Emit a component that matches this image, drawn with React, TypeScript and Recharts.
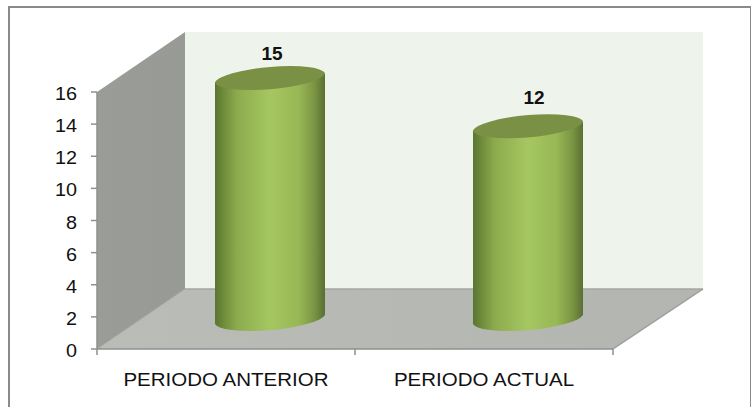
import { BarChart, Bar, XAxis, YAxis, ReferenceArea, LabelList } from 'recharts';

const categories = ['PERIODO ANTERIOR', 'PERIODO ACTUAL'];
const values = [15, 12];
const yTicks = [0, 2, 4, 6, 8, 10, 12, 14, 16];

const chartData = categories.map((name, i) => ({ name, value: values[i] }));

// Depth of the fake 3D box, and how far the cylinders sit into it
const DEPTH_X = 88;
const DEPTH_Y = -60;
const BACK_EXTRA = 2; // back edge runs slightly wider than the front axis
const MID_X = DEPTH_X / 2;
const MID_Y = DEPTH_Y / 2;
const ELLIPSE_RY = 11.8;
const TILT = -5;
const TILT_DROP = 4.5; // vertical shift of the ellipse's left/right extremes

const FONT = '"Liberation Sans", Arial, sans-serif';
const AXIS_COLOR = '#8e908c';

// Per-bar nudge of the value labels above the cylinder tops
const labelNudges = [
  [2, -18],
  [6, -22],
];

function Box({ x, y, width, height }: any) {
  const bottom = y + height;
  const right = x + width;
  const backRight = right + DEPTH_X + BACK_EXTRA;
  const step = width / categories.length;
  const ticks = categories.map((_, i) => x + step * i).concat(right);
  return (
    <g>
      <rect x={x + DEPTH_X} y={y + DEPTH_Y} width={width + BACK_EXTRA} height={height} fill="#eef4eb" />
      <polygon
        points={`${x},${y} ${x + DEPTH_X},${y + DEPTH_Y} ${x + DEPTH_X},${bottom + DEPTH_Y} ${x},${bottom}`}
        fill="url(#wallFill)"
      />
      <polygon
        points={`${x},${bottom} ${right},${bottom} ${backRight},${bottom + DEPTH_Y} ${x + DEPTH_X},${bottom + DEPTH_Y}`}
        fill="url(#floorFill)"
      />
      <line x1={x + DEPTH_X} y1={bottom + DEPTH_Y} x2={backRight} y2={bottom + DEPTH_Y} stroke="#a4a6a1" strokeWidth={1.5} />
      <line x1={x} y1={bottom} x2={x + DEPTH_X} y2={bottom + DEPTH_Y} stroke="#a4a6a1" />
      <line x1={right} y1={bottom} x2={backRight} y2={bottom + DEPTH_Y} stroke="#9c9c9c" strokeWidth={1.5} />
      {ticks.map((t) => (
        <line key={t} x1={t} y1={bottom} x2={t} y2={bottom + 6} stroke={AXIS_COLOR} strokeWidth={1.5} />
      ))}
    </g>
  );
}

function Cylinder({ x, y, width, height }: any) {
  const left = x + MID_X;
  const right = left + width;
  const top = y + MID_Y;
  const base = top + height;
  const rx = width / 2 + 0.3;
  const arc = `${rx} ${ELLIPSE_RY} ${TILT}`;
  return (
    <g>
      <path
        d={`M${left},${top + TILT_DROP} L${left},${base + TILT_DROP} A${arc} 0 0 ${right},${base - TILT_DROP} L${right},${top - TILT_DROP} Z`}
        fill="url(#cylinderFill)"
      />
      <path
        d={`M${left},${top + TILT_DROP} A${arc} 0 1 ${right},${top - TILT_DROP} A${arc} 0 1 ${left},${top + TILT_DROP} Z`}
        fill="#7a9045"
      />
    </g>
  );
}

function ValueLabel({ x, y, width, value, index }: any) {
  const [dx, dy] = labelNudges[index];
  return (
    <text
      x={x + MID_X + width / 2 + dx}
      y={y + MID_Y + dy}
      textAnchor="middle"
      fontFamily={FONT}
      fontSize={19}
      fontWeight="bold"
      fill="#111"
    >
      {value}
    </text>
  );
}

// The axis text is a little wider than the font's natural shape
function CategoryTick({ x, y, payload }: any) {
  return (
    <g transform={`translate(${x},${y + 29}) scale(1.14,1)`}>
      <text textAnchor="middle" fontFamily={FONT} fontSize={18} fill="#111">
        {payload.value}
      </text>
    </g>
  );
}

function ValueTick({ x, y, payload }: any) {
  return (
    <g transform={`translate(${x - 12},${y + 8}) scale(1.1,1)`}>
      <text textAnchor="end" fontFamily={FONT} fontSize={18} fill="#111">
        {payload.value}
      </text>
    </g>
  );
}

export default function App() {
  return (
    <div style={{ position: 'absolute', left: 0, top: 0, width: 751, height: 407, overflow: 'hidden', background: '#fff' }}>
      <div
        style={{
          position: 'absolute',
          left: 8,
          top: 6,
          width: 740,
          height: 440,
          border: '2px solid #8a8a8a',
        }}
      />
      <div style={{ position: 'absolute', left: 0, top: 0 }}>
        <BarChart
          width={751}
          height={407}
          data={chartData}
          barSize={110}
          margin={{ top: 92, right: 138, bottom: 28, left: 57 }}
        >
          <defs>
            <linearGradient id="cylinderFill" x1="0" y1="0" x2="1" y2="0">
              <stop offset="0%" stopColor="#5a752f" />
              <stop offset="8%" stopColor="#6f8c3b" />
              <stop offset="20%" stopColor="#8dab4e" />
              <stop offset="50%" stopColor="#a5c761" />
              <stop offset="76%" stopColor="#98b755" />
              <stop offset="90%" stopColor="#7b9643" />
              <stop offset="100%" stopColor="#5a6f34" />
            </linearGradient>
            <linearGradient id="wallFill" x1="0" y1="0" x2="1" y2="0">
              <stop offset="0%" stopColor="#9a9c97" />
              <stop offset="100%" stopColor="#989a95" />
            </linearGradient>
            <linearGradient id="floorFill" x1="0" y1="0" x2="1" y2="0">
              <stop offset="0%" stopColor="#babcb7" />
              <stop offset="100%" stopColor="#b3b5b0" />
            </linearGradient>
          </defs>
          <ReferenceArea y1={0} y2={16} ifOverflow="visible" shape={Box} fill="none" stroke="none" />
          <XAxis
            dataKey="name"
            height={30}
            tickLine={false}
            stroke={AXIS_COLOR}
            strokeWidth={1.5}
            tick={CategoryTick}
            interval={0}
          />
          <YAxis
            width={40}
            domain={[0, 16]}
            ticks={yTicks}
            interval={0}
            tickSize={6}
            stroke={AXIS_COLOR}
            strokeWidth={1.5}
            tick={ValueTick}
          />
          <Bar dataKey="value" shape={Cylinder} isAnimationActive={false}>
            <LabelList dataKey="value" content={ValueLabel} />
          </Bar>
        </BarChart>
      </div>
    </div>
  );
}
